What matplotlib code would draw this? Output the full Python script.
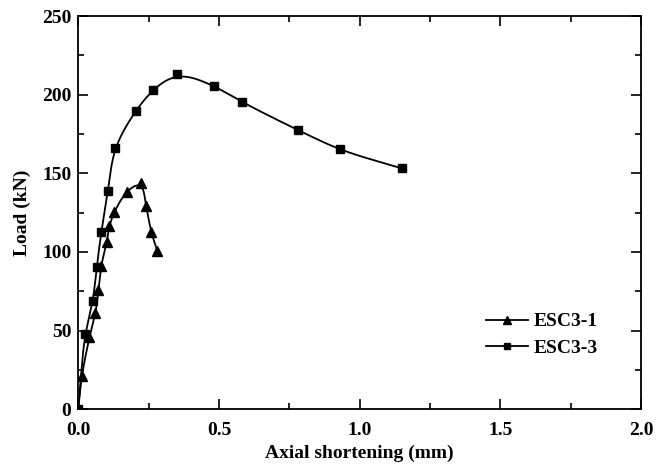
import numpy as np
import matplotlib
matplotlib.use('Agg')
import matplotlib.pyplot as plt

# ESC3-1 (triangles)
x1 = [0.0, 0.013, 0.040, 0.061, 0.072, 0.082, 0.102, 0.111, 0.129, 0.173, 0.222, 0.241, 0.260, 0.281]
y1 = [0.0, 20.8, 45.6, 60.9, 75.6, 91.2, 106.6, 116.7, 125.6, 138.3, 143.8, 129.4, 112.4, 100.7]

# ESC3-3 (squares)
x3 = [0.0, 0.025, 0.052, 0.066, 0.082, 0.106, 0.131, 0.205, 0.265, 0.350, 0.482, 0.581, 0.781, 0.930, 1.150]
y3 = [0.0, 47.7, 68.5, 90.5, 112.4, 138.9, 166.0, 189.8, 203.0, 212.9, 205.5, 195.5, 177.5, 165.2, 153.1]

labels = ['ESC3-1', 'ESC3-3']

SX, SY = 282.0, 1.572  # rough px per unit, used only to smooth in screen-like space


def catmull(p, n=40, alpha=0.5):
    p = np.vstack([2 * p[0] - p[1], p, 2 * p[-1] - p[-2]])
    out = []
    for i in range(1, len(p) - 2):
        p0, p1, p2, p3 = p[i - 1], p[i], p[i + 1], p[i + 2]
        t0 = 0.0
        t1 = t0 + np.linalg.norm(p1 - p0) ** alpha
        t2 = t1 + np.linalg.norm(p2 - p1) ** alpha
        t3 = t2 + np.linalg.norm(p3 - p2) ** alpha
        t = np.linspace(t1, t2, n, endpoint=False)[:, None]
        a1 = (t1 - t) / (t1 - t0) * p0 + (t - t0) / (t1 - t0) * p1
        a2 = (t2 - t) / (t2 - t1) * p1 + (t - t1) / (t2 - t1) * p2
        a3 = (t3 - t) / (t3 - t2) * p2 + (t - t2) / (t3 - t2) * p3
        b1 = (t2 - t) / (t2 - t0) * a1 + (t - t0) / (t2 - t0) * a2
        b2 = (t3 - t) / (t3 - t1) * a2 + (t - t1) / (t3 - t1) * a3
        out.append((t2 - t) / (t2 - t1) * b1 + (t - t1) / (t2 - t1) * b2)
    out.append(p[-2][None, :])
    return np.vstack(out)


def smooth(xs, ys, sigma=7.0):
    p = np.column_stack([np.array(xs) * SX, np.array(ys) * SY])
    c = catmull(p)
    # resample by arc length (1 px step)
    d = np.r_[0, np.cumsum(np.hypot(*np.diff(c, axis=0).T))]
    s = np.arange(0, d[-1], 1.0)
    c = np.column_stack([np.interp(s, d, c[:, 0]), np.interp(s, d, c[:, 1])])
    # gaussian smoothing, odd-reflected ends keep the end points fixed
    k = int(3 * sigma)
    w = np.exp(-0.5 * (np.arange(-k, k + 1) / sigma) ** 2)
    w /= w.sum()
    pad_a = 2 * c[0] - c[1:k + 1][::-1]
    pad_b = 2 * c[-1] - c[-k - 1:-1][::-1]
    cp = np.vstack([pad_a, c, pad_b])
    sm = np.column_stack([np.convolve(cp[:, 0], w, 'valid'), np.convolve(cp[:, 1], w, 'valid')])
    return sm[:, 0] / SX, sm[:, 1] / SY


plt.rcParams['font.family'] = 'Liberation Serif'
plt.rcParams['font.weight'] = 'bold'
plt.rcParams['font.size'] = 14

fig = plt.figure(figsize=(6.57, 4.73), dpi=100)
ax = fig.add_axes([0.119, 0.135, 0.857, 0.831])

for xs, ys, m, ms, lab, sg in [(x1, y1, '^', 7.5, labels[0], 6.0), (x3, y3, 's', 6, labels[1], 12.0)]:
    sx, sy = smooth(xs, ys, sg)
    ax.plot(sx, sy, color='black', lw=1.3)
    ax.plot(xs, ys, linestyle='none', marker=m, ms=ms, color='black')
    ax.plot([], [], color='black', lw=1.3, marker=m, ms=ms * 0.8, label=lab)

ax.set_xlim(0, 2.0)
ax.set_ylim(0, 250)
ax.set_xticks([0.0, 0.5, 1.0, 1.5, 2.0])
ax.set_xticklabels(['0.0', '0.5', '1.0', '1.5', '2.0'])
ax.set_xticks(np.arange(0.25, 2.0, 0.5), minor=True)
ax.set_yticks(np.arange(0, 251, 50))
ax.set_yticks(np.arange(25, 250, 50), minor=True)

ax.tick_params(which='major', direction='in', length=7, width=1.2)
ax.tick_params(which='minor', direction='in', length=4, width=1.2)
ax.tick_params(axis='x', which='major', pad=9)
ax.tick_params(axis='y', which='major', pad=5)
ax.tick_params(which='both', top=True, right=True)
for s in ax.spines.values():
    s.set_linewidth(1.3)

ax.set_xlabel('Axial shortening (mm)', fontweight='bold', labelpad=4)
ax.set_ylabel('Load (kN)', fontweight='bold', labelpad=8)

ax.legend(loc='upper left', bbox_to_anchor=(0.7247, 0.245), frameon=False,
          borderpad=0, borderaxespad=0, handlelength=2.15, handletextpad=0.3,
          labelspacing=0.45, prop={'family': 'Liberation Serif', 'weight': 'bold', 'size': 14})

fig.savefig('out.png', dpi=100)
